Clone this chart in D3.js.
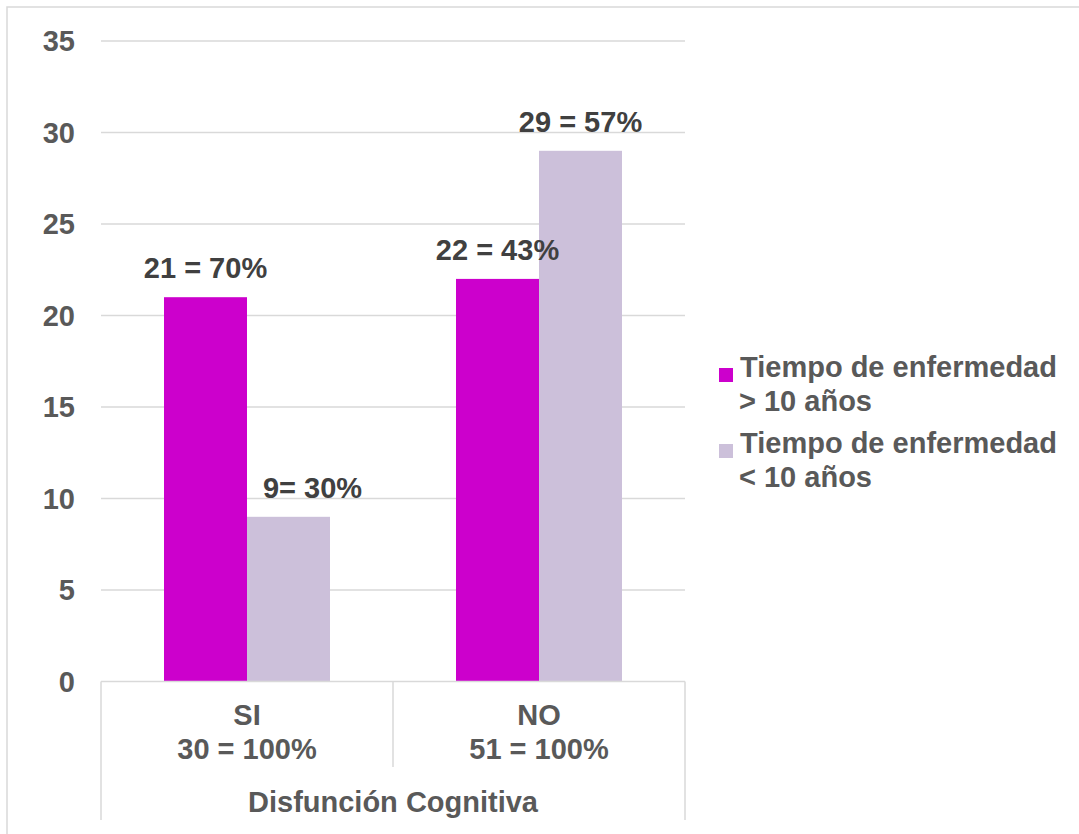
<!DOCTYPE html>
<html>
<head>
<meta charset="utf-8">
<script src="https://cdn.jsdelivr.net/npm/d3@7"></script>
<style>
  body { margin: 0; background: #fff; }
  svg text { font-family: "Liberation Sans", Arial, sans-serif; font-weight: bold; }
</style>
</head>
<body>
<div id="chart"></div>
<script>
// data
var categories = ["SI", "NO"];
var categoryTotals = ["30 = 100%", "51 = 100%"];
var seriesNames = ["Tiempo de enfermedad\n> 10 años", "Tiempo de enfermedad\n< 10 años"];
var over10 = [21, 22];
var under10 = [9, 29];
var over10Labels = ["21 = 70%", "22 = 43%"];
var under10Labels = ["9= 30%", "29 = 57%"];
var yTicks = [0, 5, 10, 15, 20, 25, 30, 35];
var axisTitle = "Disfunción Cognitiva";

var colors = ["#CC00CC", "#CCC0DA"];
var W = 1079, H = 834, FS = 29;

var svg = d3.select("#chart").append("svg").attr("width", W).attr("height", H);

// outer chart border
svg.append("rect").attr("x", 7).attr("y", 7).attr("width", W + 10).attr("height", H + 10)
  .attr("fill", "none").attr("stroke", "#d9d9d9").attr("stroke-width", 1.5);

var y = d3.scaleLinear().domain([0, 35]).range([681.5, 41]);
var x0 = d3.scaleBand().domain(categories).range([101, 685]);
var x1 = d3.scaleBand().domain([0, 1]).range([63, 229]);

// gridlines
svg.selectAll(".grid").data(yTicks.slice(1)).enter().append("line")
  .attr("x1", 101).attr("x2", 685)
  .attr("y1", d => y(d)).attr("y2", d => y(d))
  .attr("stroke", "#d9d9d9").attr("stroke-width", 1.5);

// y labels
svg.selectAll(".ylab").data(yTicks).enter().append("text")
  .attr("x", 75).attr("y", d => y(d) + 10)
  .attr("text-anchor", "end").attr("font-size", FS).attr("fill", "#595959")
  .text(d => d);

// bars
var rows = categories.map((c, i) => ({
  cat: c,
  vals: [
    { s: 0, v: over10[i], lab: over10Labels[i] },
    { s: 1, v: under10[i], lab: under10Labels[i] }
  ]
}));

var g = svg.selectAll(".grp").data(rows).enter().append("g")
  .attr("transform", d => "translate(" + x0(d.cat) + ",0)");

g.selectAll("rect").data(d => d.vals).enter().append("rect")
  .attr("x", d => x1(d.s)).attr("width", x1.bandwidth())
  .attr("y", d => y(d.v)).attr("height", d => y(0) - y(d.v))
  .attr("fill", d => colors[d.s]);

// the small SI label was nudged right in the original
g.selectAll(".dl").data(d => d.vals).enter().append("text")
  .attr("x", d => x1(d.s) + x1.bandwidth() / 2 + (d.lab === "9= 30%" ? 24 : 0))
  .attr("y", d => y(d.v) - 19)
  .attr("text-anchor", "middle").attr("font-size", FS).attr("fill", "#404040")
  .text(d => d.lab);

// x axis line and category separators
svg.append("line").attr("x1", 101).attr("x2", 685).attr("y1", y(0)).attr("y2", y(0))
  .attr("stroke", "#d9d9d9").attr("stroke-width", 1.5);
svg.append("line").attr("x1", 101).attr("x2", 101).attr("y1", y(0)).attr("y2", 820)
  .attr("stroke", "#d9d9d9").attr("stroke-width", 1.5);
svg.append("line").attr("x1", 685).attr("x2", 685).attr("y1", y(0)).attr("y2", 820)
  .attr("stroke", "#d9d9d9").attr("stroke-width", 1.5);
svg.append("line").attr("x1", x0("NO")).attr("x2", x0("NO")).attr("y1", y(0)).attr("y2", 767)
  .attr("stroke", "#d9d9d9").attr("stroke-width", 1.5);

// category labels
var cl = svg.selectAll(".cl").data(categories).enter().append("text")
  .attr("x", d => x0(d) + x0.bandwidth() / 2)
  .attr("text-anchor", "middle").attr("font-size", FS).attr("fill", "#595959");
cl.append("tspan").attr("x", d => x0(d) + x0.bandwidth() / 2).attr("y", 725).text(d => d);
cl.append("tspan").attr("x", d => x0(d) + x0.bandwidth() / 2).attr("y", 759).text((d, i) => categoryTotals[i]);

svg.append("text").attr("x", 393).attr("y", 812)
  .attr("text-anchor", "middle").attr("font-size", FS).attr("fill", "#595959")
  .text(axisTitle);

// legend
var leg = svg.selectAll(".leg").data(seriesNames).enter().append("g")
  .attr("transform", (d, i) => "translate(719," + (366 + i * 76) + ")");
leg.append("rect").attr("x", 0).attr("y", 2).attr("width", 14).attr("height", 14)
  .attr("fill", (d, i) => colors[i]);
var lt = leg.append("text").attr("font-size", FS).attr("fill", "#595959");
lt.selectAll("tspan").data(d => d.split("\n")).enter().append("tspan")
  .attr("x", (d, i) => i === 0 ? 21 : 20)
  .attr("y", (d, i) => 11 + i * 34)
  .text(d => d);
</script>
</body>
</html>
